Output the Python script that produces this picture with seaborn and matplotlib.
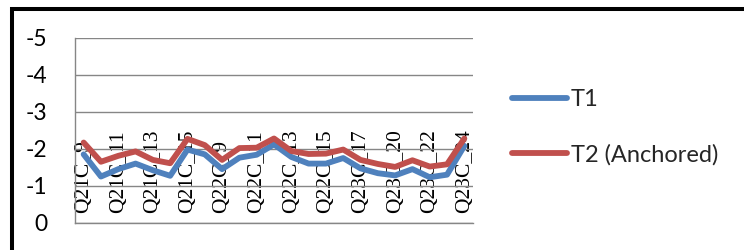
import numpy as np
import pandas as pd
import seaborn as sns
import matplotlib.pyplot as plt
from matplotlib.patches import Rectangle

# Data
categories = ["Q21C_9", "Q21C_10", "Q21C_11", "Q21C_12", "Q21C_13", "Q21C_14",
              "Q21C_15", "Q21C_16", "Q22C_9", "Q22C_10", "Q22C_11", "Q22C_12",
              "Q22C_13", "Q22C_14", "Q22C_15", "Q22C_16", "Q23C_17", "Q23C_18",
              "Q23C_20", "Q23C_21", "Q23C_22", "Q23C_23", "Q23C_24"]
t1 = [-1.85, -1.25, -1.45, -1.60, -1.42, -1.27, -1.98, -1.85, -1.45, -1.76, -1.84, -2.12,
      -1.78, -1.60, -1.60, -1.75, -1.47, -1.34, -1.28, -1.45, -1.23, -1.30, -2.08]
t2 = [-2.17, -1.65, -1.81, -1.93, -1.70, -1.61, -2.27, -2.10, -1.70, -2.02, -2.03, -2.28,
      -1.94, -1.86, -1.87, -1.98, -1.70, -1.59, -1.51, -1.69, -1.52, -1.58, -2.28]
series_names = ["T1", "T2 (Anchored)"]
y_ticks = [0, -1, -2, -3, -4, -5]

sns.set_theme(style="white")
plt.rcParams["font.family"] = ["Lato", "DejaVu Sans"]
plt.rcParams["axes.unicode_minus"] = False

grey = "#868686"
colors = ["#4F81BD", "#C0504D"]

fig = plt.figure(figsize=(7.44, 2.5), dpi=100)
ax = fig.add_axes([75 / 744, 1 - 222.7 / 250, 398 / 744, 184.7 / 250])

for vals, name, col in zip([t1, t2], series_names, colors):
    sns.lineplot(x=categories, y=vals, ax=ax, label=name, color=col,
                 linewidth=4.2, sort=False, solid_capstyle="round",
                 solid_joinstyle="round")

ax.set_xlim(-0.5, len(categories) - 0.5)
ax.set_ylim(0, -5)
ax.set_yticks(y_ticks)
ax.yaxis.grid(True, color=grey, linewidth=1)
ax.xaxis.grid(False)

# category labels every other category, drawn inside the plot area
ax.set_xticks(range(0, len(categories), 2))
ax.set_xticklabels(categories[::2], rotation=90, family="Liberation Serif",
                   fontsize=15.5, va="bottom")
ax.tick_params(axis="x", which="major", length=0, pad=-7, colors="black")
ax.set_xticks(np.arange(-0.5, len(categories), 1), minor=True)
ax.tick_params(axis="x", which="minor", direction="in", length=3.6,
               width=1, color=grey)
ax.tick_params(axis="y", direction="out", length=5.8, width=1, color=grey,
               pad=14, labelsize=16.5, labelcolor="black")
ax.set_xlabel("")
ax.set_ylabel("")

for side in ["top", "right"]:
    ax.spines[side].set_visible(False)
for side in ["left", "bottom"]:
    ax.spines[side].set_color(grey)
    ax.spines[side].set_linewidth(1)

leg = ax.legend(loc="upper left", bbox_to_anchor=(512 / 744, 1 - 89 / 250),
                bbox_transform=fig.transFigure, frameon=False, fontsize=17,
                handlelength=2.35, handletextpad=0.15, labelspacing=1.45,
                borderpad=0, borderaxespad=0)
for line in leg.get_lines():
    line.set_linewidth(4.2)
    line.set_solid_capstyle("round")

# thick outer border of the chart (runs off the right and bottom edges)
fig.add_artist(Rectangle((11.5 / 744, -0.2), 1.2, 1.2 - 8.7 / 250,
                         transform=fig.transFigure, fill=False,
                         edgecolor="black", linewidth=2.9))

fig.savefig("out.png", dpi=100)
